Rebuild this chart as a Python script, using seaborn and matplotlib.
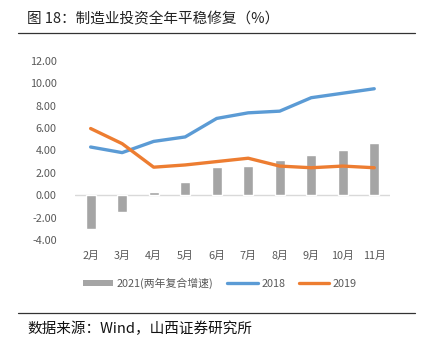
import numpy as np
import pandas as pd
import matplotlib
matplotlib.use("Agg")
import matplotlib.pyplot as plt
import seaborn as sns
from matplotlib.lines import Line2D
from matplotlib.patches import Patch

# === DATA ===
months = ["2月", "3月", "4月", "5月", "6月", "7月", "8月", "9月", "10月", "11月"]
v2021 = [-3.0, -1.5, 0.25, 1.2, 2.55, 2.6, 3.1, 3.6, 4.0, 4.7]
v2018 = [4.3, 3.8, 4.8, 5.2, 6.85, 7.35, 7.5, 8.7, 9.1, 9.5]
v2019 = [5.95, 4.6, 2.5, 2.7, 3.0, 3.3, 2.6, 2.45, 2.6, 2.45]
y_ticks = [-4, -2, 0, 2, 4, 6, 8, 10, 12]

df = pd.DataFrame({"month": months, "2021": v2021, "2018": v2018, "2019": v2019})

GRAY = "#A5A5A5"
BLUE = "#5B9BD5"
ORANGE = "#ED7D31"
TXT = "#595959"

sns.set_style("white")
plt.rcParams["font.family"] = ["Noto Sans CJK SC", "DejaVu Sans"]

fig = plt.figure(figsize=(4.23, 3.53), dpi=100)
ax = fig.add_axes([0.177, 0.320, 0.745, 0.508])

# === PLOT ===
sns.barplot(data=df, x="month", y="2021", color=GRAY, width=0.32,
            saturation=1, ax=ax, zorder=2)
sns.pointplot(data=df, x="month", y="2018", color=BLUE, marker="",
              linewidth=2.4, errorbar=None, ax=ax, zorder=3)
sns.pointplot(data=df, x="month", y="2019", color=ORANGE, marker="",
              linewidth=2.4, errorbar=None, ax=ax, zorder=4)

ax.set_xlim(-0.5, len(months) - 0.5)
ax.set_ylim(-4, 12)
ax.set_yticks(y_ticks)
ax.set_yticklabels([f"{t:.2f}" for t in y_ticks])
ax.set_xlabel("")
ax.set_ylabel("")
for s in ax.spines.values():
    s.set_visible(False)
ax.axhline(0, color="#D9D9D9", lw=1, zorder=1)
ax.tick_params(axis="both", length=0, labelsize=7.8, colors=TXT)
ax.tick_params(axis="x", pad=8)
ax.tick_params(axis="y", pad=13)

handles = [
    Patch(facecolor=GRAY, edgecolor="none"),
    Line2D([0], [0], color=BLUE, lw=2.4),
    Line2D([0], [0], color=ORANGE, lw=2.4),
]
labels = ["2021(两年复合增速)", "2018", "2019"]
fig.legend(handles, labels, loc="center", bbox_to_anchor=(0.52, 0.198),
           ncol=3, frameon=False, fontsize=7.8, labelcolor=TXT,
           handlelength=2.8, handleheight=0.5, handletextpad=0.3,
           columnspacing=1.3)

# === TITLE / SOURCE ===
fig.text(0.064, 0.945, "图 18：制造业投资全年平稳修复（%）", fontsize=10.5,
         color="#222222", va="center")
fig.add_artist(Line2D([0.043, 0.981], [0.907, 0.907], color="#333333", lw=0.9))
fig.add_artist(Line2D([0.043, 0.981], [0.113, 0.113], color="#333333", lw=0.9))
fig.text(0.064, 0.068, "数据来源：Wind，山西证券研究所", fontsize=10.5,
         color="#111111", va="center")

fig.savefig("out.png", dpi=100)
